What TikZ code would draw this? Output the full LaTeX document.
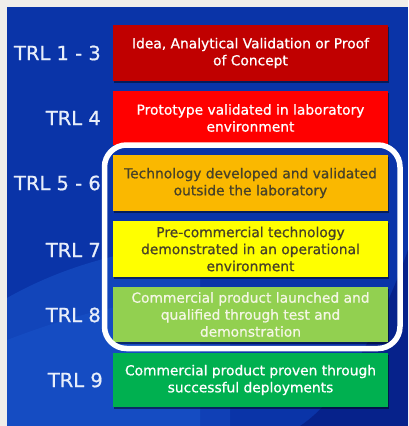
\documentclass[tikz,border=0pt]{standalone}
\usepackage{fontspec}
\setmainfont{DejaVu Sans}
\newfontfamily\boxfont{DejaVu Sans}[RawFeature={embolden=0.8}]
\usetikzlibrary{shadows}
\definecolor{pagebg}{RGB}{240,238,234}
\definecolor{panelblue}{RGB}{10,52,168}
\definecolor{swirlblue}{RGB}{30,95,215}
\definecolor{navy}{RGB}{4,22,120}
\definecolor{trlA}{RGB}{192,0,0}
\definecolor{trlB}{RGB}{255,0,0}
\definecolor{trlC}{RGB}{250,184,0}
\definecolor{trlD}{RGB}{255,255,0}
\definecolor{trlE}{RGB}{146,208,80}
\definecolor{trlF}{RGB}{0,176,80}
\definecolor{darktext}{RGB}{72,66,40}
\definecolor{lighttext}{RGB}{244,246,228}
\definecolor{labeltext}{RGB}{232,238,250}
\tikzset{
  stage/.style={draw=none, minimum width=275pt, inner sep=0pt, align=center,
    font=\boxfont\fontsize{13.8}{17}\selectfont,
    drop shadow={shadow xshift=1.2pt, shadow yshift=-1.5pt, opacity=0.45, fill=black}},
  trl/.style={anchor=east, text=labeltext, inner sep=0pt, font=\boxfont\fontsize{19.5}{22}\selectfont},
  frame/.style={draw=white, line width=5.5pt, rounded corners=22pt}
}
\begin{document}
\begin{tikzpicture}[x=1pt, y=-1pt]
\useasboundingbox (0,0) rectangle (408,426);
\fill[pagebg] (0,0) rectangle (408,426);
\fill[panelblue] (7,7) rectangle (408,426);
\fill[swirlblue, opacity=0.4] (7,298) .. controls (60,268) and (120,250) .. (200,242) -- (200,426) -- (7,426) -- cycle;
\fill[swirlblue, opacity=0.3] (7,340) .. controls (60,320) and (120,300) .. (230,290) -- (230,426) -- (7,426) -- cycle;
\fill[navy, opacity=0.6] (408,250) .. controls (380,330) and (340,400) .. (300,426) -- (408,426) -- cycle;

\node[trl] (l1) at (101,53) {TRL 1 - 3};
\node[trl] (l2) at (101,118) {TRL 4};
\node[trl] (l3) at (101,183) {TRL 5 - 6};
\node[trl] (l4) at (101,250) {TRL 7};
\node[trl] (l5) at (101,315) {TRL 8};
\node[trl] (l6) at (103,380) {TRL 9};

\node[stage, fill=trlA, text=white, minimum height=56pt] (b1) at (250.5,53) {Idea, Analytical Validation or Proof\\of Concept};
\node[stage, fill=trlB, text=white, minimum height=54pt] (b2) at (250.5,118) {Prototype validated in laboratory\\environment};
\node[stage, fill=trlC, text=darktext, minimum height=56pt] (b3) at (250.5,183) {Technology developed and validated\\outside the laboratory};
\node[stage, fill=trlD, text=darktext, minimum height=56pt] (b4) at (250.5,249) {Pre-commercial technology\\demonstrated in an operational\\environment};
\node[stage, fill=trlE, text=lighttext, minimum height=55pt] (b5) at (250.5,314.5) {Commercial product launched and\\qualified through test and\\demonstration};
\node[stage, fill=trlF, text=white, minimum height=54pt] (b6) at (250.5,380) {Commercial product proven through\\successful deployments};

\draw[frame] (104.5,145) rectangle (400,348.5);
\end{tikzpicture}
\end{document}
